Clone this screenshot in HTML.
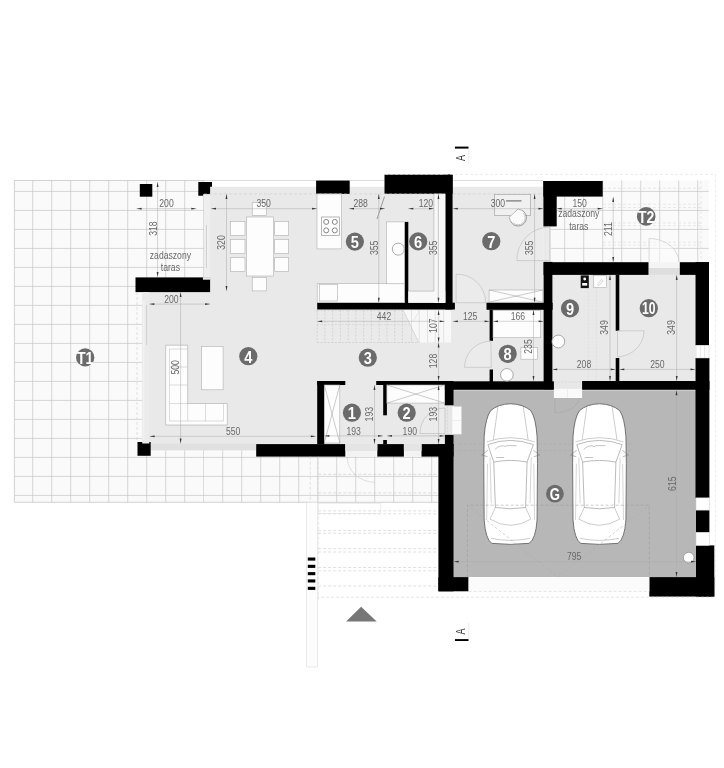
<!DOCTYPE html>
<html><head><meta charset="utf-8"><title>Plan</title>
<style>html,body{margin:0;padding:0;background:#fff}body{width:724px;height:768px;overflow:hidden}svg{display:block;filter:grayscale(1)}text{font-family:"Liberation Sans",sans-serif}</style>
</head><body>
<svg width="724" height="768" viewBox="0 0 724 768">
<rect width="724" height="768" fill="#fff"/>
<g>
<rect x="14.4" y="180.5" width="189.6" height="321.8" fill="#fafafa" />
<line x1="32.7" y1="180.5" x2="32.7" y2="502.3" stroke="#c6c6c6" stroke-width="0.7"/>
<line x1="51.7" y1="180.5" x2="51.7" y2="502.3" stroke="#c6c6c6" stroke-width="0.7"/>
<line x1="70.7" y1="180.5" x2="70.7" y2="502.3" stroke="#c6c6c6" stroke-width="0.7"/>
<line x1="89.7" y1="180.5" x2="89.7" y2="502.3" stroke="#c6c6c6" stroke-width="0.7"/>
<line x1="108.7" y1="180.5" x2="108.7" y2="502.3" stroke="#c6c6c6" stroke-width="0.7"/>
<line x1="127.7" y1="180.5" x2="127.7" y2="502.3" stroke="#c6c6c6" stroke-width="0.7"/>
<line x1="146.7" y1="180.5" x2="146.7" y2="502.3" stroke="#c6c6c6" stroke-width="0.7"/>
<line x1="165.7" y1="180.5" x2="165.7" y2="502.3" stroke="#c6c6c6" stroke-width="0.7"/>
<line x1="184.7" y1="180.5" x2="184.7" y2="502.3" stroke="#c6c6c6" stroke-width="0.7"/>
<line x1="203.7" y1="180.5" x2="203.7" y2="502.3" stroke="#c6c6c6" stroke-width="0.7"/>
<line x1="14.4" y1="191.4" x2="204.0" y2="191.4" stroke="#c6c6c6" stroke-width="0.7"/>
<line x1="14.4" y1="210.4" x2="204.0" y2="210.4" stroke="#c6c6c6" stroke-width="0.7"/>
<line x1="14.4" y1="229.4" x2="204.0" y2="229.4" stroke="#c6c6c6" stroke-width="0.7"/>
<line x1="14.4" y1="248.4" x2="204.0" y2="248.4" stroke="#c6c6c6" stroke-width="0.7"/>
<line x1="14.4" y1="267.4" x2="204.0" y2="267.4" stroke="#c6c6c6" stroke-width="0.7"/>
<line x1="14.4" y1="286.4" x2="204.0" y2="286.4" stroke="#c6c6c6" stroke-width="0.7"/>
<line x1="14.4" y1="305.4" x2="204.0" y2="305.4" stroke="#c6c6c6" stroke-width="0.7"/>
<line x1="14.4" y1="324.4" x2="204.0" y2="324.4" stroke="#c6c6c6" stroke-width="0.7"/>
<line x1="14.4" y1="343.4" x2="204.0" y2="343.4" stroke="#c6c6c6" stroke-width="0.7"/>
<line x1="14.4" y1="362.4" x2="204.0" y2="362.4" stroke="#c6c6c6" stroke-width="0.7"/>
<line x1="14.4" y1="381.4" x2="204.0" y2="381.4" stroke="#c6c6c6" stroke-width="0.7"/>
<line x1="14.4" y1="400.4" x2="204.0" y2="400.4" stroke="#c6c6c6" stroke-width="0.7"/>
<line x1="14.4" y1="419.4" x2="204.0" y2="419.4" stroke="#c6c6c6" stroke-width="0.7"/>
<line x1="14.4" y1="438.4" x2="204.0" y2="438.4" stroke="#c6c6c6" stroke-width="0.7"/>
<line x1="14.4" y1="457.4" x2="204.0" y2="457.4" stroke="#c6c6c6" stroke-width="0.7"/>
<line x1="14.4" y1="476.4" x2="204.0" y2="476.4" stroke="#c6c6c6" stroke-width="0.7"/>
<line x1="14.4" y1="495.4" x2="204.0" y2="495.4" stroke="#c6c6c6" stroke-width="0.7"/>
<rect x="204.0" y="443.0" width="234.5" height="59.3" fill="#fafafa" />
<line x1="222.7" y1="443.0" x2="222.7" y2="502.3" stroke="#c6c6c6" stroke-width="0.7"/>
<line x1="241.7" y1="443.0" x2="241.7" y2="502.3" stroke="#c6c6c6" stroke-width="0.7"/>
<line x1="260.7" y1="443.0" x2="260.7" y2="502.3" stroke="#c6c6c6" stroke-width="0.7"/>
<line x1="279.7" y1="443.0" x2="279.7" y2="502.3" stroke="#c6c6c6" stroke-width="0.7"/>
<line x1="298.7" y1="443.0" x2="298.7" y2="502.3" stroke="#c6c6c6" stroke-width="0.7"/>
<line x1="317.7" y1="443.0" x2="317.7" y2="502.3" stroke="#c6c6c6" stroke-width="0.7"/>
<line x1="336.7" y1="443.0" x2="336.7" y2="502.3" stroke="#c6c6c6" stroke-width="0.7"/>
<line x1="355.7" y1="443.0" x2="355.7" y2="502.3" stroke="#c6c6c6" stroke-width="0.7"/>
<line x1="374.7" y1="443.0" x2="374.7" y2="502.3" stroke="#c6c6c6" stroke-width="0.7"/>
<line x1="393.7" y1="443.0" x2="393.7" y2="502.3" stroke="#c6c6c6" stroke-width="0.7"/>
<line x1="412.7" y1="443.0" x2="412.7" y2="502.3" stroke="#c6c6c6" stroke-width="0.7"/>
<line x1="431.7" y1="443.0" x2="431.7" y2="502.3" stroke="#c6c6c6" stroke-width="0.7"/>
<line x1="204.0" y1="457.4" x2="438.5" y2="457.4" stroke="#c6c6c6" stroke-width="0.7"/>
<line x1="204.0" y1="476.4" x2="438.5" y2="476.4" stroke="#c6c6c6" stroke-width="0.7"/>
<line x1="204.0" y1="495.4" x2="438.5" y2="495.4" stroke="#c6c6c6" stroke-width="0.7"/>
<rect x="551.0" y="180.5" width="157.8" height="81.7" fill="#fafafa" />
<line x1="564.7" y1="180.5" x2="564.7" y2="262.2" stroke="#c6c6c6" stroke-width="0.7"/>
<line x1="583.7" y1="180.5" x2="583.7" y2="262.2" stroke="#c6c6c6" stroke-width="0.7"/>
<line x1="602.7" y1="180.5" x2="602.7" y2="262.2" stroke="#c6c6c6" stroke-width="0.7"/>
<line x1="621.7" y1="180.5" x2="621.7" y2="262.2" stroke="#c6c6c6" stroke-width="0.7"/>
<line x1="640.7" y1="180.5" x2="640.7" y2="262.2" stroke="#c6c6c6" stroke-width="0.7"/>
<line x1="659.7" y1="180.5" x2="659.7" y2="262.2" stroke="#c6c6c6" stroke-width="0.7"/>
<line x1="678.7" y1="180.5" x2="678.7" y2="262.2" stroke="#c6c6c6" stroke-width="0.7"/>
<line x1="697.7" y1="180.5" x2="697.7" y2="262.2" stroke="#c6c6c6" stroke-width="0.7"/>
<line x1="551.0" y1="191.4" x2="708.8" y2="191.4" stroke="#c6c6c6" stroke-width="0.7"/>
<line x1="551.0" y1="210.4" x2="708.8" y2="210.4" stroke="#c6c6c6" stroke-width="0.7"/>
<line x1="551.0" y1="229.4" x2="708.8" y2="229.4" stroke="#c6c6c6" stroke-width="0.7"/>
<line x1="551.0" y1="248.4" x2="708.8" y2="248.4" stroke="#c6c6c6" stroke-width="0.7"/>
<rect x="543.4" y="226.4" width="7.6" height="35.5" fill="#e8e8e8" />
<line x1="545.5" y1="226.4" x2="545.5" y2="261.9" stroke="#ccc" stroke-width="0.5" stroke-dasharray="2 1.5"/>
</g>
<path d="M14.4 180.5 H204 M14.4 180.5 V502.3 H438.5" fill="none" stroke="#c6c6c6" stroke-width="0.8"/>
<line x1="204.0" y1="180.5" x2="385.0" y2="180.5" stroke="#d5d5d5" stroke-width="0.8"/>
<line x1="452.8" y1="180.5" x2="543.4" y2="180.5" stroke="#d5d5d5" stroke-width="0.8"/>
<line x1="603.0" y1="188.3" x2="703.0" y2="188.3" stroke="#dcdcdc" stroke-width="0.6" stroke-dasharray="3 2"/>
<line x1="603.0" y1="204.2" x2="703.0" y2="204.2" stroke="#dcdcdc" stroke-width="0.6" stroke-dasharray="3 2"/>
<line x1="603.0" y1="207.5" x2="703.0" y2="207.5" stroke="#dcdcdc" stroke-width="0.6" stroke-dasharray="3 2"/>
<line x1="603.0" y1="223.0" x2="703.0" y2="223.0" stroke="#dcdcdc" stroke-width="0.6" stroke-dasharray="3 2"/>
<line x1="603.0" y1="225.6" x2="703.0" y2="225.6" stroke="#dcdcdc" stroke-width="0.6" stroke-dasharray="3 2"/>
<line x1="603.0" y1="242.2" x2="703.0" y2="242.2" stroke="#dcdcdc" stroke-width="0.6" stroke-dasharray="3 2"/>
<line x1="603.0" y1="245.1" x2="703.0" y2="245.1" stroke="#dcdcdc" stroke-width="0.6" stroke-dasharray="3 2"/>
<line x1="701.0" y1="181.0" x2="701.0" y2="262.0" stroke="#dcdcdc" stroke-width="0.6" stroke-dasharray="3 2"/>
<rect x="204.0" y="186.8" width="241.3" height="116.2" fill="#e9e9e9" />
<rect x="142.2" y="292.0" width="175.8" height="151.8" fill="#e9e9e9" />
<rect x="317.0" y="303.0" width="136.0" height="142.0" fill="#e9e9e9" />
<rect x="452.8" y="186.8" width="90.8" height="195.2" fill="#e9e9e9" />
<rect x="552.2" y="274.9" width="143.3" height="106.1" fill="#e9e9e9" />
<rect x="150.7" y="443.5" width="105.5" height="6.9" fill="#e0e0e0" />
<rect x="648.5" y="267.8" width="31.3" height="7.1" fill="#dedede" />
<rect x="648.5" y="262.2" width="31.3" height="5.6" fill="#f4f4f4" />
<rect x="453.6" y="390.3" width="242.4" height="186.8" fill="#b7b7b7" />
<rect x="139.8" y="184.0" width="12.5" height="12.7" fill="#000" />
<path d="M198.3 182 H212 V186.7 H210.1 V194.3 H203 V195.7 H198.3 Z" fill="#000"/>
<rect x="135.5" y="277.4" width="74.6" height="14.7" fill="#000" />
<rect x="202.9" y="277.2" width="7.2" height="2.5" fill="#e9e9e9" />
<rect x="137.5" y="442.0" width="13.2" height="13.8" fill="#000" />
<rect x="316.1" y="180.6" width="33.6" height="13.3" fill="#000" />
<rect x="384.5" y="174.6" width="68.1" height="19.2" fill="#000" />
<rect x="445.3" y="174.6" width="7.3" height="134.9" fill="#000" />
<rect x="404.6" y="221.9" width="3.7" height="81.1" fill="#000" />
<rect x="317.2" y="302.7" width="137.7" height="6.8" fill="#000" />
<rect x="543.4" y="181.0" width="59.3" height="15.6" fill="#000" />
<rect x="543.4" y="181.0" width="13.3" height="45.4" fill="#000" />
<rect x="543.6" y="261.9" width="8.8" height="127.4" fill="#000" />
<rect x="543.6" y="262.2" width="104.9" height="12.7" fill="#000" />
<rect x="679.8" y="262.2" width="29.2" height="12.7" fill="#000" />
<rect x="695.5" y="262.2" width="13.5" height="83.1" fill="#000" />
<rect x="695.5" y="358.0" width="13.9" height="139.9" fill="#000" />
<rect x="486.5" y="302.7" width="66.1" height="7.1" fill="#000" />
<rect x="489.6" y="309.8" width="3.4" height="31.0" fill="#000" />
<rect x="489.6" y="369.5" width="3.4" height="12.5" fill="#000" />
<rect x="615.7" y="274.9" width="3.6" height="55.9" fill="#000" />
<rect x="615.7" y="358.0" width="3.6" height="23.0" fill="#000" />
<rect x="439.0" y="381.3" width="115.0" height="8.5" fill="#000" />
<rect x="582.0" y="381.0" width="127.4" height="8.8" fill="#000" />
<rect x="444.7" y="381.3" width="8.9" height="24.1" fill="#000" />
<rect x="444.9" y="434.6" width="8.7" height="10.4" fill="#000" />
<rect x="438.4" y="444.1" width="15.2" height="147.2" fill="#000" />
<rect x="438.4" y="577.1" width="30.2" height="14.2" fill="#000" />
<rect x="649.3" y="577.1" width="65.0" height="19.5" fill="#000" />
<rect x="696.0" y="510.1" width="13.4" height="22.3" fill="#000" />
<rect x="696.0" y="545.4" width="18.3" height="51.2" fill="#000" />
<rect x="317.2" y="381.0" width="28.1" height="4.0" fill="#000" />
<rect x="317.2" y="381.0" width="7.1" height="63.2" fill="#000" />
<rect x="376.2" y="381.0" width="76.8" height="4.0" fill="#000" />
<rect x="383.2" y="385.0" width="3.7" height="30.3" fill="#000" />
<rect x="383.2" y="440.0" width="3.7" height="4.2" fill="#000" />
<rect x="256.2" y="444.1" width="89.1" height="12.5" fill="#000" />
<rect x="377.3" y="444.1" width="26.6" height="12.5" fill="#000" />
<rect x="421.5" y="444.1" width="32.1" height="12.5" fill="#000" />
<rect x="345.3" y="444.1" width="32.0" height="6.9" fill="#e4e4e4" />
<rect x="347.0" y="451.0" width="29.0" height="5.6" fill="#f2f2f2" />
<rect x="403.9" y="444.1" width="17.6" height="6.9" fill="#e4e4e4" />
<rect x="405.0" y="451.0" width="15.5" height="5.6" fill="#f2f2f2" />
<rect x="696.0" y="345.3" width="13.0" height="12.7" fill="#fff" stroke="#ccc" stroke-width="0.5"/>
<line x1="700.3" y1="345.3" x2="700.3" y2="358.0" stroke="#ccc" stroke-width="0.5"/>
<line x1="704.6" y1="345.3" x2="704.6" y2="358.0" stroke="#ccc" stroke-width="0.5"/>
<rect x="696.0" y="497.9" width="13.4" height="12.2" fill="#fff" stroke="#ccc" stroke-width="0.5"/>
<rect x="696.0" y="532.4" width="13.4" height="13.0" fill="#fff" stroke="#ccc" stroke-width="0.5"/>
<rect x="246.5" y="217.0" width="27.1" height="59.0" fill="#fdfdfd" stroke="#b0b0b0" stroke-width="0.6"/>
<rect x="230.5" y="221.5" width="14.5" height="13.8" fill="#fdfdfd" stroke="#b0b0b0" stroke-width="0.6"/>
<rect x="274.7" y="221.5" width="14.0" height="13.8" fill="#fdfdfd" stroke="#b0b0b0" stroke-width="0.6"/>
<rect x="230.5" y="239.6" width="14.5" height="13.8" fill="#fdfdfd" stroke="#b0b0b0" stroke-width="0.6"/>
<rect x="274.7" y="239.6" width="14.0" height="13.8" fill="#fdfdfd" stroke="#b0b0b0" stroke-width="0.6"/>
<rect x="230.5" y="257.7" width="14.5" height="13.8" fill="#fdfdfd" stroke="#b0b0b0" stroke-width="0.6"/>
<rect x="274.7" y="257.7" width="14.0" height="13.8" fill="#fdfdfd" stroke="#b0b0b0" stroke-width="0.6"/>
<rect x="252.2" y="202.7" width="14.4" height="12.6" fill="#fdfdfd" stroke="#b0b0b0" stroke-width="0.6"/>
<rect x="252.2" y="277.6" width="14.4" height="13.3" fill="#fdfdfd" stroke="#b0b0b0" stroke-width="0.6"/>
<rect x="317.0" y="193.9" width="24.5" height="55.0" fill="#fdfdfd" stroke="#b0b0b0" stroke-width="0.6"/>
<rect x="321.4" y="217.0" width="18.3" height="18.6" fill="#fdfdfd" stroke="#888" stroke-width="0.6"/>
<circle cx="326.2" cy="221.9" r="2.5" fill="#fff" stroke="#858585" stroke-width="1"/>
<circle cx="326.2" cy="230.4" r="2.5" fill="#fff" stroke="#858585" stroke-width="1"/>
<circle cx="334.8" cy="221.9" r="2.5" fill="#fff" stroke="#858585" stroke-width="1"/>
<circle cx="334.8" cy="230.4" r="2.5" fill="#fff" stroke="#858585" stroke-width="1"/>
<rect x="317.2" y="283.7" width="87.3" height="19.0" fill="#fdfdfd" stroke="#b0b0b0" stroke-width="0.6"/>
<rect x="319.4" y="284.5" width="18.2" height="16.5" fill="#fdfdfd" stroke="#b0b0b0" stroke-width="0.6"/>
<rect x="386.6" y="221.9" width="17.9" height="61.9" fill="#fdfdfd" stroke="#b0b0b0" stroke-width="0.6"/>
<circle cx="398.3" cy="249.1" r="6" fill="#fff" stroke="#888" stroke-width="0.7"/>
<line x1="384.5" y1="196.6" x2="377.0" y2="219.0" stroke="#888" stroke-width="0.8"/>
<rect x="433.9" y="193.8" width="11.4" height="109.2" fill="#f8f8f8" />
<rect x="408.3" y="291.1" width="37.0" height="11.7" fill="#f8f8f8" />
<line x1="433.9" y1="193.8" x2="433.9" y2="291.1" stroke="#aaa" stroke-width="0.6"/>
<line x1="408.3" y1="291.1" x2="433.9" y2="291.1" stroke="#aaa" stroke-width="0.6"/>
<line x1="437.7" y1="193.8" x2="437.7" y2="303.0" stroke="#ddd" stroke-width="0.5"/>
<rect x="317.2" y="310.2" width="135.3" height="32.3" fill="#eaeaea" />
<line x1="317.2" y1="310.2" x2="317.2" y2="342.5" stroke="#c4c4c4" stroke-width="0.6" stroke-dasharray="2 1.5"/>
<line x1="324.9" y1="310.2" x2="324.9" y2="342.5" stroke="#c4c4c4" stroke-width="0.6" stroke-dasharray="2 1.5"/>
<line x1="332.7" y1="310.2" x2="332.7" y2="342.5" stroke="#c4c4c4" stroke-width="0.6" stroke-dasharray="2 1.5"/>
<line x1="340.4" y1="310.2" x2="340.4" y2="342.5" stroke="#c4c4c4" stroke-width="0.6" stroke-dasharray="2 1.5"/>
<line x1="348.2" y1="310.2" x2="348.2" y2="342.5" stroke="#c4c4c4" stroke-width="0.6" stroke-dasharray="2 1.5"/>
<line x1="355.9" y1="310.2" x2="355.9" y2="342.5" stroke="#c4c4c4" stroke-width="0.6" stroke-dasharray="2 1.5"/>
<line x1="363.7" y1="310.2" x2="363.7" y2="342.5" stroke="#c4c4c4" stroke-width="0.6" stroke-dasharray="2 1.5"/>
<line x1="371.4" y1="310.2" x2="371.4" y2="342.5" stroke="#c4c4c4" stroke-width="0.6" stroke-dasharray="2 1.5"/>
<line x1="379.2" y1="310.2" x2="379.2" y2="342.5" stroke="#c4c4c4" stroke-width="0.6" stroke-dasharray="2 1.5"/>
<line x1="386.9" y1="310.2" x2="386.9" y2="342.5" stroke="#c4c4c4" stroke-width="0.6" stroke-dasharray="2 1.5"/>
<line x1="394.7" y1="310.2" x2="394.7" y2="342.5" stroke="#c4c4c4" stroke-width="0.6" stroke-dasharray="2 1.5"/>
<line x1="402.4" y1="310.2" x2="402.4" y2="342.5" stroke="#c4c4c4" stroke-width="0.6" stroke-dasharray="2 1.5"/>
<line x1="317.2" y1="310.4" x2="404.0" y2="310.4" stroke="#c8c8c8" stroke-width="0.6" stroke-dasharray="2 1.5"/>
<line x1="317.2" y1="342.5" x2="418.0" y2="342.5" stroke="#c4c4c4" stroke-width="0.6" stroke-dasharray="2 1.5"/>
<line x1="317.2" y1="324.5" x2="410.0" y2="324.5" stroke="#cfcfcf" stroke-width="0.6" stroke-dasharray="2 1.5"/>
<path d="M403.2 310.2 L418.8 342.5 H452.5 V310.2 Z" fill="#f8f8f8"/>
<line x1="411.5" y1="310.2" x2="411.5" y2="342.5" stroke="#d4d4d4" stroke-width="0.6"/>
<line x1="419.2" y1="310.2" x2="419.2" y2="342.5" stroke="#d4d4d4" stroke-width="0.6"/>
<line x1="427.5" y1="310.2" x2="427.5" y2="342.5" stroke="#d4d4d4" stroke-width="0.6"/>
<line x1="435.3" y1="310.2" x2="435.3" y2="342.5" stroke="#d4d4d4" stroke-width="0.6"/>
<line x1="443.6" y1="310.2" x2="443.6" y2="342.5" stroke="#d4d4d4" stroke-width="0.6"/>
<line x1="451.9" y1="310.2" x2="451.9" y2="342.5" stroke="#d4d4d4" stroke-width="0.6"/>
<line x1="403.2" y1="310.2" x2="418.8" y2="342.5" stroke="#c8c8c8" stroke-width="0.6"/>
<line x1="419.2" y1="311.0" x2="413.5" y2="321.0" stroke="#d4d4d4" stroke-width="0.5"/>
<rect x="324.3" y="385.0" width="15.5" height="58.0" fill="#fdfdfd" stroke="#b0b0b0" stroke-width="0.6"/>
<line x1="324.3" y1="385.0" x2="339.8" y2="443.0" stroke="#999" stroke-width="0.5"/>
<line x1="324.3" y1="443.0" x2="339.8" y2="385.0" stroke="#999" stroke-width="0.5"/>
<rect x="386.9" y="385.0" width="57.8" height="18.1" fill="#fdfdfd" stroke="#b0b0b0" stroke-width="0.6"/>
<line x1="386.9" y1="385.0" x2="444.7" y2="403.1" stroke="#999" stroke-width="0.5"/>
<line x1="386.9" y1="403.1" x2="444.7" y2="385.0" stroke="#999" stroke-width="0.5"/>
<rect x="489.1" y="290.0" width="53.8" height="12.2" fill="#fdfdfd" stroke="#b0b0b0" stroke-width="0.6"/>
<line x1="489.1" y1="290.0" x2="542.9" y2="302.2" stroke="#999" stroke-width="0.5"/>
<line x1="489.1" y1="302.2" x2="542.9" y2="290.0" stroke="#999" stroke-width="0.5"/>
<rect x="444.9" y="405.8" width="8.7" height="28.8" fill="#e6e6e6" />
<line x1="447.5" y1="406.0" x2="447.5" y2="434.5" stroke="#ccc" stroke-width="0.5" stroke-dasharray="2 1.5"/>
<rect x="452.0" y="406.7" width="9.3" height="27.4" fill="#fbfbfb" stroke="#e4e4e4" stroke-width="0.5"/>
<line x1="452.0" y1="420.5" x2="461.3" y2="420.5" stroke="#e0e0e0" stroke-width="0.5"/>
<rect x="553.9" y="380.8" width="28.2" height="8.2" fill="#e7e7e7" />
<line x1="554.0" y1="382.0" x2="582.0" y2="382.0" stroke="#ccc" stroke-width="0.5" stroke-dasharray="2 1.5"/>
<rect x="553.9" y="388.9" width="28.2" height="9.1" fill="#fafafa" />
<line x1="567.6" y1="389.0" x2="567.6" y2="398.0" stroke="#e2e2e2" stroke-width="0.5"/>
<path d="M554.9 398 V413.1 A25 15.5 0 0 0 579 398.5" fill="none" stroke="#a4a4a4" stroke-width="0.5"/>
<rect x="494.3" y="194.3" width="36.4" height="21.2" fill="#f0f0f0" stroke="#9a9a9a" stroke-width="0.6"/>
<line x1="506.1" y1="200.9" x2="521.5" y2="200.9" stroke="#666" stroke-width="1.1"/>
<circle cx="518.1" cy="217.7" r="7.6" fill="#fbfbfb"/>
<path d="M522.25 210.5 L518.1 209 L509 217.3 L510.9 221.85" fill="#fbfbfb" stroke="#888" stroke-width="0.6"/>
<path d="M522.25 210.5 A8.3 8.3 0 1 1 510.9 221.85" fill="none" stroke="#777" stroke-width="0.7"/>
<path d="M523.3 213.2 A6.8 6.8 0 0 1 513.2 222.6" fill="none" stroke="#aaa" stroke-width="0.6"/>
<rect x="493.0" y="310.6" width="47.7" height="27.1" fill="#fdfdfd" stroke="#b0b0b0" stroke-width="0.6"/>
<rect x="520.9" y="347.5" width="16.4" height="11.7" fill="#fdfdfd" stroke="#b0b0b0" stroke-width="0.6"/>
<circle cx="506.9" cy="374.9" r="6.3" fill="#fff" stroke="#888" stroke-width="0.7"/>
<circle cx="558.3" cy="341.5" r="6.4" fill="#fff" stroke="#888" stroke-width="0.7"/>
<rect x="580.7" y="275.4" width="8.1" height="12.7" fill="#111" />
<circle cx="584.7" cy="279" r="1.4" fill="#fff"/><rect x="582.2" y="283" width="5" height="2.6" fill="#fff"/>
<rect x="593.4" y="275.4" width="13.2" height="12.2" fill="#fdfdfd" stroke="#b0b0b0" stroke-width="0.6"/>
<path d="M165.7 345.2 H187.7 V403.5 H227.3 V425 H165.7 Z" fill="#fdfdfd" stroke="#aaa" stroke-width="0.6"/>
<path d="M169.5 349 H187.7 M169.5 349 V421 H223.5 V403.5 M169.5 367 H187.7 M169.5 385 H187.7 M169.5 403.5 H187.7 M187.7 403.5 V421 M205.5 403.5 V421" fill="none" stroke="#bbb" stroke-width="0.5"/>
<rect x="201.6" y="346.3" width="21.5" height="43.5" fill="#fdfdfd" stroke="#b0b0b0" stroke-width="0.6"/>
<path d="M549.8 260.6 H516.9 A33 33 0 0 1 549.8 227 Z" fill="#ededed" fill-opacity="0.6" stroke="#bbb" stroke-width="0.6"/>
<path d="M456.1 302.7 V274.2 A28.5 28.5 0 0 1 485.7 302.7 Z" fill="#ededed" fill-opacity="0.6" stroke="#bbb" stroke-width="0.6"/>
<path d="M491.3 367.3 H464.5 A26.5 26.5 0 0 1 490.8 341.1 Z" fill="#ededed" fill-opacity="0.6" stroke="#bbb" stroke-width="0.6"/>
<path d="M617.5 330.8 H644.2 A27 27 0 0 1 617.5 356.7 Z" fill="#ededed" fill-opacity="0.6" stroke="#bbb" stroke-width="0.6"/>
<path d="M649.1 262.1 V238.5 A30 24 0 0 1 679 262.1" fill="#fcfcfc" fill-opacity="0.5" stroke="#c4c4c4" stroke-width="0.6"/>
<path d="M445 433.5 H420 A25 25 0 0 1 445 408 Z" fill="#ededed" fill-opacity="0.6" stroke="#bbb" stroke-width="0.6"/>
<rect x="142.2" y="292.0" width="7.1" height="151.5" fill="#ebebeb" />
<line x1="143.8" y1="300.0" x2="143.8" y2="440.0" stroke="#f6f6f6" stroke-width="0.8"/>
<line x1="146.6" y1="305.0" x2="146.6" y2="345.0" stroke="#bbb" stroke-width="0.6"/>
<rect x="204.0" y="194.3" width="6.3" height="83.0" fill="#eeeeee" />
<line x1="206.5" y1="225.0" x2="206.5" y2="268.0" stroke="#bbb" stroke-width="0.6"/>
<line x1="207.8" y1="225.0" x2="207.8" y2="268.0" stroke="#f6f6f6" stroke-width="0.8"/>
<line x1="204.0" y1="193.9" x2="445.0" y2="193.9" stroke="#c8c8c8" stroke-width="0.5" stroke-dasharray="3 2"/>
<line x1="452.8" y1="193.9" x2="543.0" y2="193.9" stroke="#c8c8c8" stroke-width="0.5" stroke-dasharray="3 2"/>
<line x1="385.0" y1="174.4" x2="715.4" y2="174.4" stroke="#ddd" stroke-width="0.6" stroke-dasharray="3 2"/>
<line x1="715.4" y1="174.4" x2="715.4" y2="590.0" stroke="#e2e2e2" stroke-width="0.6" stroke-dasharray="3 2"/>
<line x1="137.0" y1="292.0" x2="137.0" y2="442.0" stroke="#d0d0d0" stroke-width="0.6" stroke-dasharray="3 2"/>
<line x1="588.3" y1="288.0" x2="588.3" y2="381.0" stroke="#d4d4d4" stroke-width="0.5" stroke-dasharray="2 1.5"/>
<line x1="596.4" y1="288.0" x2="596.4" y2="381.0" stroke="#d4d4d4" stroke-width="0.5" stroke-dasharray="2 1.5"/>
<path d="M597.5 284.5 L601.5 279.5 L603 281 L599 285.5 Z" fill="none" stroke="#aaa" stroke-width="0.5"/>
<line x1="453.6" y1="444.0" x2="635.0" y2="444.0" stroke="#a8a8a8" stroke-width="0.5" stroke-dasharray="3 2"/>
<line x1="453.6" y1="450.5" x2="635.0" y2="450.5" stroke="#a8a8a8" stroke-width="0.5" stroke-dasharray="3 2"/>
<g transform="translate(483.75,403.75)" fill="#fff" stroke="#777" stroke-width="0.5" stroke-linejoin="round"><path stroke="#666" stroke-width="0.9" d="M6.88 6.88 Q14.17 0.42 26.67 0.00 Q39.58 0.42 47.08 6.88 Q52.08 14.17 53.33 32.92 L53.75 60.00 53.33 116.25 Q52.08 135.00 45.42 139.58 Q26.67 141.67 7.92 139.58 Q1.67 135.00 0.42 116.25 L0.00 60.00 0.42 32.92 Q1.67 14.17 6.88 6.88 Z"/><path d="M14.17 3.33 9.58 36.04 M39.58 3.33 44.38 36.04" fill="none" stroke="#999"/><path d="M4.17 40.83 Q26.67 32.50 49.58 40.83 L43.33 58.33 Q26.67 55.00 10.00 58.33 Z"/><path d="M2.92 38.12 Q26.67 29.79 50.83 38.12" fill="none" stroke="#999"/><path d="M10.00 58.33 11.67 103.75 Q26.67 106.25 41.88 103.75 L43.33 58.33" fill="none"/><path d="M11.67 103.75 6.25 115.42 Q26.67 127.71 47.08 115.42 L41.88 103.75" fill="none" stroke="#999"/><path d="M4.17 46.46 -2.08 51.25 3.75 52.92 M49.58 46.46 55.83 51.25 50.00 52.92" fill="none"/><path d="M6.25 53.75 7.50 99.58 M47.50 53.75 46.25 99.58 M3.75 60.00 2.92 116.25 M50.00 60.00 50.83 116.25" fill="none" stroke="#aaa"/><path d="M7.50 134.58 Q26.67 138.75 46.25 134.58" fill="none" stroke="#999"/><path d="M11.04 45.83 Q16.25 40.21 22.50 42.92 M22.50 41.88 32.92 41.88 M12.08 53.75 20.42 53.75" fill="none" stroke="#888"/></g>
<g transform="translate(572.6,403.75)" fill="#fff" stroke="#777" stroke-width="0.5" stroke-linejoin="round"><path stroke="#666" stroke-width="0.9" d="M6.88 6.88 Q14.17 0.42 26.67 0.00 Q39.58 0.42 47.08 6.88 Q52.08 14.17 53.33 32.92 L53.75 60.00 53.33 116.25 Q52.08 135.00 45.42 139.58 Q26.67 141.67 7.92 139.58 Q1.67 135.00 0.42 116.25 L0.00 60.00 0.42 32.92 Q1.67 14.17 6.88 6.88 Z"/><path d="M14.17 3.33 9.58 36.04 M39.58 3.33 44.38 36.04" fill="none" stroke="#999"/><path d="M4.17 40.83 Q26.67 32.50 49.58 40.83 L43.33 58.33 Q26.67 55.00 10.00 58.33 Z"/><path d="M2.92 38.12 Q26.67 29.79 50.83 38.12" fill="none" stroke="#999"/><path d="M10.00 58.33 11.67 103.75 Q26.67 106.25 41.88 103.75 L43.33 58.33" fill="none"/><path d="M11.67 103.75 6.25 115.42 Q26.67 127.71 47.08 115.42 L41.88 103.75" fill="none" stroke="#999"/><path d="M4.17 46.46 -2.08 51.25 3.75 52.92 M49.58 46.46 55.83 51.25 50.00 52.92" fill="none"/><path d="M6.25 53.75 7.50 99.58 M47.50 53.75 46.25 99.58 M3.75 60.00 2.92 116.25 M50.00 60.00 50.83 116.25" fill="none" stroke="#aaa"/><path d="M7.50 134.58 Q26.67 138.75 46.25 134.58" fill="none" stroke="#999"/><path d="M11.04 45.83 Q16.25 40.21 22.50 42.92 M22.50 41.88 32.92 41.88 M12.08 53.75 20.42 53.75" fill="none" stroke="#888"/></g>
<path d="M467.4 577 V505.2 H649.3 V577" fill="none" stroke="#999" stroke-width="0.5" stroke-dasharray="3 2"/>
<path d="M467.4 505.2 L558 577 L649.3 505.2" fill="none" stroke="#aaa" stroke-width="0.5" stroke-dasharray="3 2"/>
<circle cx="688.7" cy="557.6" r="5.3" fill="#fff" stroke="#888" stroke-width="0.7"/>
<rect x="468.6" y="577.1" width="180.7" height="14.2" fill="#fbfbfb" />
<line x1="468.6" y1="591.6" x2="649.0" y2="591.6" stroke="#d4d4d4" stroke-width="0.6" stroke-dasharray="3 2"/>
<path d="M347 456.7 A28 26 0 0 0 375 482.3" fill="none" stroke="#ccc" stroke-width="0.6"/>
<line x1="310.3" y1="456.7" x2="310.3" y2="600.0" stroke="#d4d4d4" stroke-width="0.6" stroke-dasharray="3 2"/>
<line x1="318.3" y1="456.7" x2="318.3" y2="600.0" stroke="#d4d4d4" stroke-width="0.6" stroke-dasharray="3 2"/>
<line x1="318.3" y1="474.3" x2="437.0" y2="474.3" stroke="#c8c8c8" stroke-width="0.6" stroke-dasharray="3 2"/>
<line x1="318.3" y1="492.9" x2="437.0" y2="492.9" stroke="#c8c8c8" stroke-width="0.6" stroke-dasharray="3 2"/>
<rect x="318.3" y="503.5" width="62.3" height="10.0" fill="#fff" stroke="#e0e0e0" stroke-width="0.5"/>
<line x1="318.2" y1="510.9" x2="437.5" y2="510.9" stroke="#cbcbcb" stroke-width="0.6" stroke-dasharray="3 2"/>
<line x1="318.2" y1="513.8" x2="437.5" y2="513.8" stroke="#cbcbcb" stroke-width="0.6" stroke-dasharray="3 2"/>
<line x1="318.2" y1="530.4" x2="437.5" y2="530.4" stroke="#cbcbcb" stroke-width="0.6" stroke-dasharray="3 2"/>
<line x1="318.2" y1="533.2" x2="437.5" y2="533.2" stroke="#cbcbcb" stroke-width="0.6" stroke-dasharray="3 2"/>
<line x1="318.2" y1="548.7" x2="437.5" y2="548.7" stroke="#cbcbcb" stroke-width="0.6" stroke-dasharray="3 2"/>
<line x1="318.2" y1="552.0" x2="437.5" y2="552.0" stroke="#cbcbcb" stroke-width="0.6" stroke-dasharray="3 2"/>
<line x1="318.2" y1="567.5" x2="437.5" y2="567.5" stroke="#cbcbcb" stroke-width="0.6" stroke-dasharray="3 2"/>
<line x1="318.2" y1="570.8" x2="437.5" y2="570.8" stroke="#cbcbcb" stroke-width="0.6" stroke-dasharray="3 2"/>
<line x1="318.2" y1="586.0" x2="437.5" y2="586.0" stroke="#cbcbcb" stroke-width="0.6" stroke-dasharray="3 2"/>
<line x1="311.0" y1="597.2" x2="715.0" y2="597.2" stroke="#d2d2d2" stroke-width="0.6" stroke-dasharray="3 2"/>
<rect x="306.7" y="502.3" width="10.7" height="164.7" fill="#fdfdfd" stroke="#ddd" stroke-width="0.6"/>
<rect x="307.8" y="557.5" width="7.5" height="3.1" fill="#000" />
<rect x="307.8" y="564.8" width="7.5" height="3.1" fill="#000" />
<rect x="307.8" y="572.1" width="7.5" height="3.1" fill="#000" />
<rect x="307.8" y="579.4" width="7.5" height="3.1" fill="#000" />
<rect x="307.8" y="586.8" width="7.5" height="3.1" fill="#000" />
<path d="M346.1 621.4 H376.7 L361.1 606.8 Z" fill="#777"/>
<rect x="454.9" y="146.6" width="13.6" height="2.0" fill="#000" />
<rect x="454.9" y="639.1" width="13.6" height="1.9" fill="#000" />
<text transform="translate(460.4,158.0) rotate(-90) scale(0.72,1)" font-size="12.5" fill="#333" font-weight="normal" text-anchor="middle" dominant-baseline="central">A</text>
<text transform="translate(460.3,631.4) rotate(-90) scale(0.72,1)" font-size="12.5" fill="#333" font-weight="normal" text-anchor="middle" dominant-baseline="central">A</text>
<line x1="468.7" y1="148.5" x2="468.7" y2="164.0" stroke="#e2e2e2" stroke-width="0.6"/>
<line x1="468.7" y1="623.0" x2="468.7" y2="639.0" stroke="#e2e2e2" stroke-width="0.6"/>
<line x1="136.6" y1="208.7" x2="196.3" y2="208.7" stroke="#aaa" stroke-width="0.5"/>
<path d="M136.6 208.7 l5 -0.9 l0 1.8 z" fill="#333"/>
<path d="M196.3 208.7 l-5 -0.9 l0 1.8 z" fill="#333"/>
<line x1="211.0" y1="208.7" x2="317.0" y2="208.7" stroke="#aaa" stroke-width="0.5"/>
<path d="M211.0 208.7 l5 -0.9 l0 1.8 z" fill="#333"/>
<path d="M317.0 208.7 l-5 -0.9 l0 1.8 z" fill="#333"/>
<line x1="349.0" y1="208.7" x2="385.0" y2="208.7" stroke="#aaa" stroke-width="0.5"/>
<path d="M349.0 208.7 l5 -0.9 l0 1.8 z" fill="#333"/>
<path d="M385.0 208.7 l-5 -0.9 l0 1.8 z" fill="#333"/>
<line x1="408.3" y1="208.7" x2="434.0" y2="208.7" stroke="#aaa" stroke-width="0.5"/>
<path d="M408.3 208.7 l5 -0.9 l0 1.8 z" fill="#333"/>
<path d="M434.0 208.7 l-5 -0.9 l0 1.8 z" fill="#333"/>
<line x1="157.6" y1="182.0" x2="157.6" y2="277.0" stroke="#aaa" stroke-width="0.5"/>
<path d="M157.6 182.0 l-0.9 5 l1.8 0 z" fill="#333"/>
<path d="M157.6 277.0 l-0.9 -5 l1.8 0 z" fill="#333"/>
<line x1="226.5" y1="194.0" x2="226.5" y2="291.0" stroke="#aaa" stroke-width="0.5"/>
<path d="M226.5 194.0 l-0.9 5 l1.8 0 z" fill="#333"/>
<path d="M226.5 291.0 l-0.9 -5 l1.8 0 z" fill="#333"/>
<line x1="378.8" y1="194.0" x2="378.8" y2="302.7" stroke="#aaa" stroke-width="0.5"/>
<path d="M378.8 194.0 l-0.9 5 l1.8 0 z" fill="#333"/>
<path d="M378.8 302.7 l-0.9 -5 l1.8 0 z" fill="#333"/>
<line x1="438.5" y1="194.0" x2="438.5" y2="302.7" stroke="#aaa" stroke-width="0.5"/>
<path d="M438.5 194.0 l-0.9 5 l1.8 0 z" fill="#333"/>
<path d="M438.5 302.7 l-0.9 -5 l1.8 0 z" fill="#333"/>
<line x1="149.3" y1="304.1" x2="210.1" y2="304.1" stroke="#aaa" stroke-width="0.5"/>
<path d="M149.3 304.1 l5 -0.9 l0 1.8 z" fill="#333"/>
<path d="M210.1 304.1 l-5 -0.9 l0 1.8 z" fill="#333"/>
<line x1="149.6" y1="436.3" x2="315.8" y2="436.3" stroke="#aaa" stroke-width="0.5"/>
<path d="M149.6 436.3 l5 -0.9 l0 1.8 z" fill="#333"/>
<path d="M315.8 436.3 l-5 -0.9 l0 1.8 z" fill="#333"/>
<line x1="180.6" y1="292.0" x2="180.6" y2="443.5" stroke="#aaa" stroke-width="0.5"/>
<path d="M180.6 292.0 l-0.9 5 l1.8 0 z" fill="#333"/>
<path d="M180.6 443.5 l-0.9 -5 l1.8 0 z" fill="#333"/>
<line x1="317.2" y1="321.3" x2="444.7" y2="321.3" stroke="#aaa" stroke-width="0.5"/>
<path d="M317.2 321.3 l5 -0.9 l0 1.8 z" fill="#333"/>
<path d="M444.7 321.3 l-5 -0.9 l0 1.8 z" fill="#333"/>
<line x1="438.6" y1="310.0" x2="438.6" y2="342.5" stroke="#aaa" stroke-width="0.5"/>
<path d="M438.6 310.0 l-0.9 5 l1.8 0 z" fill="#333"/>
<path d="M438.6 342.5 l-0.9 -5 l1.8 0 z" fill="#333"/>
<line x1="438.6" y1="342.5" x2="438.6" y2="381.0" stroke="#aaa" stroke-width="0.5"/>
<path d="M438.6 342.5 l-0.9 5 l1.8 0 z" fill="#333"/>
<path d="M438.6 381.0 l-0.9 -5 l1.8 0 z" fill="#333"/>
<line x1="452.8" y1="321.3" x2="489.6" y2="321.3" stroke="#aaa" stroke-width="0.5"/>
<path d="M452.8 321.3 l5 -0.9 l0 1.8 z" fill="#333"/>
<path d="M489.6 321.3 l-5 -0.9 l0 1.8 z" fill="#333"/>
<line x1="493.0" y1="321.3" x2="543.6" y2="321.3" stroke="#aaa" stroke-width="0.5"/>
<path d="M493.0 321.3 l5 -0.9 l0 1.8 z" fill="#333"/>
<path d="M543.6 321.3 l-5 -0.9 l0 1.8 z" fill="#333"/>
<line x1="324.3" y1="435.9" x2="383.0" y2="435.9" stroke="#aaa" stroke-width="0.5"/>
<path d="M324.3 435.9 l5 -0.9 l0 1.8 z" fill="#333"/>
<path d="M383.0 435.9 l-5 -0.9 l0 1.8 z" fill="#333"/>
<line x1="387.0" y1="435.9" x2="444.7" y2="435.9" stroke="#aaa" stroke-width="0.5"/>
<path d="M387.0 435.9 l5 -0.9 l0 1.8 z" fill="#333"/>
<path d="M444.7 435.9 l-5 -0.9 l0 1.8 z" fill="#333"/>
<line x1="374.5" y1="385.0" x2="374.5" y2="444.0" stroke="#aaa" stroke-width="0.5"/>
<path d="M374.5 385.0 l-0.9 5 l1.8 0 z" fill="#333"/>
<path d="M374.5 444.0 l-0.9 -5 l1.8 0 z" fill="#333"/>
<line x1="438.6" y1="385.0" x2="438.6" y2="444.0" stroke="#aaa" stroke-width="0.5"/>
<path d="M438.6 385.0 l-0.9 5 l1.8 0 z" fill="#333"/>
<path d="M438.6 444.0 l-0.9 -5 l1.8 0 z" fill="#333"/>
<line x1="452.8" y1="208.7" x2="543.4" y2="208.7" stroke="#aaa" stroke-width="0.5"/>
<path d="M452.8 208.7 l5 -0.9 l0 1.8 z" fill="#333"/>
<path d="M543.4 208.7 l-5 -0.9 l0 1.8 z" fill="#333"/>
<line x1="534.6" y1="194.0" x2="534.6" y2="302.7" stroke="#aaa" stroke-width="0.5"/>
<path d="M534.6 194.0 l-0.9 5 l1.8 0 z" fill="#333"/>
<path d="M534.6 302.7 l-0.9 -5 l1.8 0 z" fill="#333"/>
<line x1="556.7" y1="208.7" x2="602.7" y2="208.7" stroke="#aaa" stroke-width="0.5"/>
<path d="M556.7 208.7 l5 -0.9 l0 1.8 z" fill="#333"/>
<path d="M602.7 208.7 l-5 -0.9 l0 1.8 z" fill="#333"/>
<line x1="613.2" y1="197.0" x2="613.2" y2="262.0" stroke="#aaa" stroke-width="0.5"/>
<path d="M613.2 197.0 l-0.9 5 l1.8 0 z" fill="#333"/>
<path d="M613.2 262.0 l-0.9 -5 l1.8 0 z" fill="#333"/>
<line x1="552.2" y1="369.4" x2="615.7" y2="369.4" stroke="#aaa" stroke-width="0.5"/>
<path d="M552.2 369.4 l5 -0.9 l0 1.8 z" fill="#333"/>
<path d="M615.7 369.4 l-5 -0.9 l0 1.8 z" fill="#333"/>
<line x1="619.3" y1="369.4" x2="695.5" y2="369.4" stroke="#aaa" stroke-width="0.5"/>
<path d="M619.3 369.4 l5 -0.9 l0 1.8 z" fill="#333"/>
<path d="M695.5 369.4 l-5 -0.9 l0 1.8 z" fill="#333"/>
<line x1="610.0" y1="275.0" x2="610.0" y2="381.0" stroke="#aaa" stroke-width="0.5"/>
<path d="M610.0 275.0 l-0.9 5 l1.8 0 z" fill="#333"/>
<path d="M610.0 381.0 l-0.9 -5 l1.8 0 z" fill="#333"/>
<line x1="676.7" y1="275.0" x2="676.7" y2="381.0" stroke="#aaa" stroke-width="0.5"/>
<path d="M676.7 275.0 l-0.9 5 l1.8 0 z" fill="#333"/>
<path d="M676.7 381.0 l-0.9 -5 l1.8 0 z" fill="#333"/>
<line x1="533.5" y1="310.0" x2="533.5" y2="381.0" stroke="#aaa" stroke-width="0.5"/>
<path d="M533.5 310.0 l-0.9 5 l1.8 0 z" fill="#333"/>
<path d="M533.5 381.0 l-0.9 -5 l1.8 0 z" fill="#333"/>
<line x1="453.6" y1="561.7" x2="696.0" y2="561.7" stroke="#aaa" stroke-width="0.5"/>
<path d="M453.6 561.7 l5 -0.9 l0 1.8 z" fill="#333"/>
<path d="M696.0 561.7 l-5 -0.9 l0 1.8 z" fill="#333"/>
<line x1="676.5" y1="390.3" x2="676.5" y2="577.0" stroke="#aaa" stroke-width="0.5"/>
<path d="M676.5 390.3 l-0.9 5 l1.8 0 z" fill="#333"/>
<path d="M676.5 577.0 l-0.9 -5 l1.8 0 z" fill="#333"/>
<text transform="translate(166.5,203.3) scale(0.8,1)" font-size="10.8" fill="#686868" font-weight="normal" text-anchor="middle" dominant-baseline="central">200</text>
<text transform="translate(152.9,228.6) rotate(-90) scale(0.8,1)" font-size="10.8" fill="#686868" font-weight="normal" text-anchor="middle" dominant-baseline="central">318</text>
<text transform="translate(170.4,255.4) scale(0.8,1)" font-size="10.8" fill="#686868" font-weight="normal" text-anchor="middle" dominant-baseline="central">zadaszony</text>
<text transform="translate(170.4,267.6) scale(0.8,1)" font-size="10.8" fill="#686868" font-weight="normal" text-anchor="middle" dominant-baseline="central">taras</text>
<text transform="translate(221.4,242.5) rotate(-90) scale(0.8,1)" font-size="10.8" fill="#686868" font-weight="normal" text-anchor="middle" dominant-baseline="central">320</text>
<text transform="translate(263.7,202.8) scale(0.8,1)" font-size="10.8" fill="#686868" font-weight="normal" text-anchor="middle" dominant-baseline="central">350</text>
<text transform="translate(360.7,203.3) scale(0.8,1)" font-size="10.8" fill="#686868" font-weight="normal" text-anchor="middle" dominant-baseline="central">288</text>
<text transform="translate(425.9,203.3) scale(0.8,1)" font-size="10.8" fill="#686868" font-weight="normal" text-anchor="middle" dominant-baseline="central">120</text>
<text transform="translate(373.7,247.8) rotate(-90) scale(0.8,1)" font-size="10.8" fill="#686868" font-weight="normal" text-anchor="middle" dominant-baseline="central">355</text>
<text transform="translate(432.9,247.8) rotate(-90) scale(0.8,1)" font-size="10.8" fill="#686868" font-weight="normal" text-anchor="middle" dominant-baseline="central">355</text>
<text transform="translate(171.4,299.0) scale(0.8,1)" font-size="10.8" fill="#686868" font-weight="normal" text-anchor="middle" dominant-baseline="central">200</text>
<text transform="translate(384.0,316.1) scale(0.8,1)" font-size="10.8" fill="#686868" font-weight="normal" text-anchor="middle" dominant-baseline="central">442</text>
<text transform="translate(433.0,325.7) rotate(-90) scale(0.8,1)" font-size="10.8" fill="#686868" font-weight="normal" text-anchor="middle" dominant-baseline="central">107</text>
<text transform="translate(433.0,361.0) rotate(-90) scale(0.8,1)" font-size="10.8" fill="#686868" font-weight="normal" text-anchor="middle" dominant-baseline="central">128</text>
<text transform="translate(368.7,414.2) rotate(-90) scale(0.8,1)" font-size="10.8" fill="#686868" font-weight="normal" text-anchor="middle" dominant-baseline="central">193</text>
<text transform="translate(353.7,430.9) scale(0.8,1)" font-size="10.8" fill="#686868" font-weight="normal" text-anchor="middle" dominant-baseline="central">193</text>
<text transform="translate(409.8,430.9) scale(0.8,1)" font-size="10.8" fill="#686868" font-weight="normal" text-anchor="middle" dominant-baseline="central">190</text>
<text transform="translate(433.0,414.2) rotate(-90) scale(0.8,1)" font-size="10.8" fill="#686868" font-weight="normal" text-anchor="middle" dominant-baseline="central">193</text>
<text transform="translate(497.9,203.3) scale(0.8,1)" font-size="10.8" fill="#686868" font-weight="normal" text-anchor="middle" dominant-baseline="central">300</text>
<text transform="translate(528.7,247.8) rotate(-90) scale(0.8,1)" font-size="10.8" fill="#686868" font-weight="normal" text-anchor="middle" dominant-baseline="central">355</text>
<text transform="translate(579.7,202.8) scale(0.8,1)" font-size="10.8" fill="#686868" font-weight="normal" text-anchor="middle" dominant-baseline="central">150</text>
<text transform="translate(578.8,213.5) scale(0.8,1)" font-size="10.8" fill="#686868" font-weight="normal" text-anchor="middle" dominant-baseline="central">zadaszony</text>
<text transform="translate(578.8,226.1) scale(0.8,1)" font-size="10.8" fill="#686868" font-weight="normal" text-anchor="middle" dominant-baseline="central">taras</text>
<text transform="translate(608.6,229.2) rotate(-90) scale(0.8,1)" font-size="10.8" fill="#686868" font-weight="normal" text-anchor="middle" dominant-baseline="central">211</text>
<text transform="translate(604.0,327.5) rotate(-90) scale(0.8,1)" font-size="10.8" fill="#686868" font-weight="normal" text-anchor="middle" dominant-baseline="central">349</text>
<text transform="translate(671.1,327.5) rotate(-90) scale(0.8,1)" font-size="10.8" fill="#686868" font-weight="normal" text-anchor="middle" dominant-baseline="central">349</text>
<text transform="translate(584.0,364.1) scale(0.8,1)" font-size="10.8" fill="#686868" font-weight="normal" text-anchor="middle" dominant-baseline="central">208</text>
<text transform="translate(657.4,364.1) scale(0.8,1)" font-size="10.8" fill="#686868" font-weight="normal" text-anchor="middle" dominant-baseline="central">250</text>
<text transform="translate(470.1,315.9) scale(0.8,1)" font-size="10.8" fill="#686868" font-weight="normal" text-anchor="middle" dominant-baseline="central">125</text>
<text transform="translate(517.9,315.9) scale(0.8,1)" font-size="10.8" fill="#686868" font-weight="normal" text-anchor="middle" dominant-baseline="central">166</text>
<text transform="translate(528.1,346.5) rotate(-90) scale(0.8,1)" font-size="10.8" fill="#686868" font-weight="normal" text-anchor="middle" dominant-baseline="central">235</text>
<text transform="translate(175.1,367.3) rotate(-90) scale(0.8,1)" font-size="10.8" fill="#686868" font-weight="normal" text-anchor="middle" dominant-baseline="central">500</text>
<text transform="translate(233.1,430.7) scale(0.8,1)" font-size="10.8" fill="#686868" font-weight="normal" text-anchor="middle" dominant-baseline="central">550</text>
<text transform="translate(574.2,556.5) scale(0.8,1)" font-size="10.8" fill="#686868" font-weight="normal" text-anchor="middle" dominant-baseline="central">795</text>
<text transform="translate(671.7,483.7) rotate(-90) scale(0.8,1)" font-size="10.8" fill="#686868" font-weight="normal" text-anchor="middle" dominant-baseline="central">615</text>
<circle cx="85.2" cy="357.4" r="9.15" fill="#6b6b6b"/>
<text transform="translate(85.2,358.0) scale(0.88,1)" font-size="16" fill="#fff" font-weight="bold" text-anchor="middle" dominant-baseline="central">T1</text>
<circle cx="646.2" cy="216.4" r="9.3" fill="#6b6b6b"/>
<text transform="translate(646.2,217.0) scale(0.88,1)" font-size="16" fill="#fff" font-weight="bold" text-anchor="middle" dominant-baseline="central">T2</text>
<circle cx="351.9" cy="412.7" r="9.1" fill="#6b6b6b"/>
<text transform="translate(351.9,413.3) scale(0.9,1)" font-size="16.3" fill="#fff" font-weight="bold" text-anchor="middle" dominant-baseline="central">1</text>
<circle cx="406.7" cy="412.7" r="9.1" fill="#6b6b6b"/>
<text transform="translate(406.7,413.3) scale(0.9,1)" font-size="16.3" fill="#fff" font-weight="bold" text-anchor="middle" dominant-baseline="central">2</text>
<circle cx="367.8" cy="357.7" r="9.1" fill="#6b6b6b"/>
<text transform="translate(367.8,358.3) scale(0.9,1)" font-size="16.3" fill="#fff" font-weight="bold" text-anchor="middle" dominant-baseline="central">3</text>
<circle cx="248.3" cy="356.2" r="9.1" fill="#6b6b6b"/>
<text transform="translate(248.3,356.8) scale(0.9,1)" font-size="16.3" fill="#fff" font-weight="bold" text-anchor="middle" dominant-baseline="central">4</text>
<circle cx="354.9" cy="241.6" r="9.1" fill="#6b6b6b"/>
<text transform="translate(354.9,242.2) scale(0.9,1)" font-size="16.3" fill="#fff" font-weight="bold" text-anchor="middle" dominant-baseline="central">5</text>
<circle cx="418.2" cy="241.4" r="9.1" fill="#6b6b6b"/>
<text transform="translate(418.2,242.0) scale(0.9,1)" font-size="16.3" fill="#fff" font-weight="bold" text-anchor="middle" dominant-baseline="central">6</text>
<circle cx="491.3" cy="241.2" r="9.1" fill="#6b6b6b"/>
<text transform="translate(491.3,241.8) scale(0.9,1)" font-size="16.3" fill="#fff" font-weight="bold" text-anchor="middle" dominant-baseline="central">7</text>
<circle cx="507.7" cy="353.8" r="9.1" fill="#6b6b6b"/>
<text transform="translate(507.7,354.4) scale(0.9,1)" font-size="16.3" fill="#fff" font-weight="bold" text-anchor="middle" dominant-baseline="central">8</text>
<circle cx="570.0" cy="308.4" r="9.1" fill="#6b6b6b"/>
<text transform="translate(570.0,309.0) scale(0.9,1)" font-size="16.3" fill="#fff" font-weight="bold" text-anchor="middle" dominant-baseline="central">9</text>
<circle cx="648.8" cy="308.2" r="9.1" fill="#6b6b6b"/>
<text transform="translate(648.8,308.8) scale(0.74,1)" font-size="16.5" fill="#fff" font-weight="bold" text-anchor="middle" dominant-baseline="central">10</text>
<circle cx="554.9" cy="493.7" r="8.9" fill="#6b6b6b"/>
<text transform="translate(554.9,494.3) scale(0.82,1)" font-size="16" fill="#fff" font-weight="bold" text-anchor="middle" dominant-baseline="central">G</text>
</svg>
</body></html>
